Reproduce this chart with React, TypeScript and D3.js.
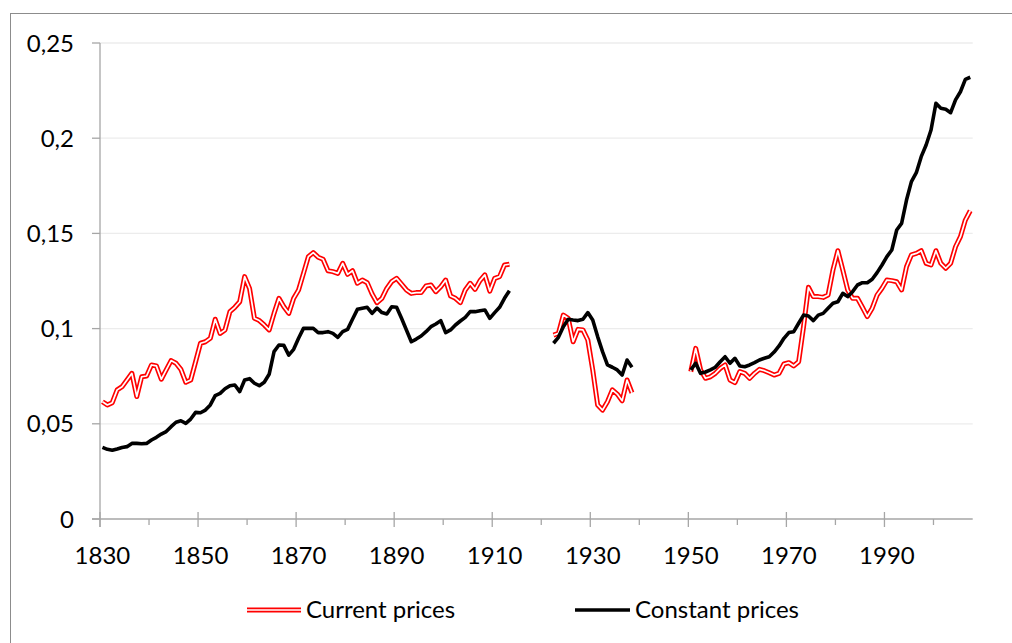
import React from "react";
import * as d3 from "d3";

// years on the category axis
const firstYear = 1830;
const lastYear = 2007;

// current prices, by period (null = no data)
const currentStart1 = 1830;
const current1 = [
  0.0616, 0.0599, 0.0611, 0.0678, 0.0695, 0.073, 0.0765, 0.0643, 0.0747, 0.0751,
  0.0809, 0.0804, 0.0734, 0.0783, 0.0832, 0.0818, 0.0786, 0.0718, 0.073, 0.0826,
  0.0923, 0.0931, 0.0949, 0.1049, 0.0975, 0.0993, 0.1089, 0.1112, 0.1141, 0.1273,
  0.1211, 0.1054, 0.1042, 0.1019, 0.0993, 0.108, 0.1159, 0.1115, 0.108, 0.1159,
  0.1203, 0.129, 0.1378, 0.1399, 0.1375, 0.1364, 0.1304, 0.1299, 0.129, 0.1343,
  0.1285, 0.1304, 0.1238, 0.1255, 0.1241, 0.1182, 0.1136, 0.1159, 0.1211, 0.1247,
  0.1264, 0.1234, 0.1203, 0.1185, 0.1189, 0.1189, 0.1224, 0.1229, 0.1194, 0.122,
  0.1255, 0.1171, 0.1159, 0.1136, 0.1203, 0.1238, 0.1206, 0.1252, 0.1282, 0.1197,
  0.1264, 0.1273, 0.1334, 0.1338,
];
const currentStart2 = 1922;
const current2 = [
  0.0966, 0.0975, 0.1071, 0.1054, 0.0931, 0.0996, 0.0993, 0.094, 0.0783, 0.0599,
  0.0572, 0.0616, 0.0678, 0.0656, 0.0621, 0.073, 0.0663,
];
const currentStart3 = 1950;
const current3 = [
  0.0774, 0.0896, 0.0783, 0.0739, 0.0747, 0.0765, 0.0791, 0.0809, 0.073, 0.0716,
  0.0774, 0.0765, 0.0739, 0.0765, 0.0786, 0.0779, 0.0768, 0.0756, 0.0765, 0.0814,
  0.0821, 0.0804, 0.0826, 0.101, 0.1217, 0.1168, 0.1168, 0.1164, 0.1176, 0.1308,
  0.1409, 0.1308, 0.1203, 0.1159, 0.1159, 0.1112, 0.1063, 0.1107, 0.1176, 0.1212,
  0.1255, 0.1252, 0.1246, 0.1203, 0.1325, 0.1387, 0.1395, 0.1409, 0.1343, 0.1334,
  0.1409, 0.1343, 0.1317, 0.1343, 0.143, 0.1483, 0.157, 0.1619,
];

// constant prices, by period
const constant1 = [
  0.0376, 0.0366, 0.0361, 0.0368, 0.0376, 0.038, 0.0397, 0.0397, 0.0395, 0.0397,
  0.0415, 0.0429, 0.0446, 0.0459, 0.0485, 0.0508, 0.0516, 0.0502, 0.0525, 0.056,
  0.0558, 0.0572, 0.0599, 0.0648, 0.066, 0.0684, 0.07, 0.0704, 0.0669, 0.073,
  0.0737, 0.0713, 0.07, 0.0718, 0.076, 0.0879, 0.0914, 0.0912, 0.0861, 0.0891,
  0.0949, 0.1001, 0.1001, 0.1001, 0.0979, 0.0979, 0.0984, 0.0975, 0.0954, 0.0984,
  0.0996, 0.1049, 0.1101, 0.1107, 0.1112, 0.108, 0.1108, 0.1084, 0.1077, 0.1115,
  0.1112, 0.1054, 0.0993, 0.0931, 0.0945, 0.0961, 0.0984, 0.101, 0.1024, 0.1042,
  0.0979, 0.0993, 0.1019, 0.104, 0.1059, 0.1089, 0.1089, 0.1094, 0.1098, 0.1054,
  0.1084, 0.1112, 0.1159, 0.1199,
];
const constant2 = [
  0.0923, 0.0954, 0.101, 0.1049, 0.1045, 0.1042, 0.1049, 0.1084, 0.1045, 0.0958,
  0.0879, 0.0809, 0.0797, 0.0783, 0.0756, 0.0835, 0.0797,
];
const constant3 = [
  0.0783, 0.0818, 0.0765, 0.0772, 0.0783, 0.0797, 0.0826, 0.0852, 0.0818, 0.0844,
  0.0804, 0.08, 0.0809, 0.0821, 0.0835, 0.0844, 0.0852, 0.0877, 0.0909, 0.0949,
  0.0979, 0.0984, 0.1028, 0.1071, 0.1066, 0.1042, 0.1071, 0.108, 0.1107, 0.1133,
  0.1141, 0.1185, 0.1168, 0.1194, 0.1229, 0.1241, 0.1241, 0.1259, 0.1294, 0.1334,
  0.1378, 0.1413, 0.1518, 0.1553, 0.1675, 0.1772, 0.1819, 0.1903, 0.1964, 0.2043,
  0.2183, 0.2157, 0.2152, 0.2134, 0.2201, 0.2244, 0.2309, 0.232,
];

const yTicks = [0, 0.05, 0.1, 0.15, 0.2, 0.25];
const xLabelYears = [1830, 1850, 1870, 1890, 1910, 1930, 1950, 1970, 1990];
const xMinorYears = [1840, 1860, 1880, 1900, 1920, 1940, 1960, 1980, 2000];

const seriesNames = ["Current prices", "Constant prices"];

type Pt = { year: number; value: number | null };

function build(parts: [number, number[]][]): Pt[] {
  const map = new Map<number, number>();
  parts.forEach(([start, vals]) => vals.forEach((v, i) => map.set(start + i, v)));
  return d3.range(firstYear, lastYear + 1).map((year) => ({
    year,
    value: map.has(year) ? (map.get(year) as number) : null,
  }));
}

const currentSeries = build([
  [currentStart1, current1],
  [currentStart2, current2],
  [currentStart3, current3],
]);
const constantSeries = build([
  [currentStart1, constant1],
  [currentStart2, constant2],
  [currentStart3, constant3],
]);

const FONT = "Lato, 'Open Sans', sans-serif";
const AXIS = "#a6a6a6";
const FS = 24;

export default function App() {
  const years = d3.range(firstYear, lastYear + 1);
  const x = d3.scaleBand<number>().domain(years).range([100, 972.7]).padding(0);
  const cx = (yr: number) => (x(yr) as number) + x.bandwidth() / 2;
  const y = d3.scaleLinear().domain([0, 0.25]).range([519, 43]);

  const line = d3
    .line<Pt>()
    .defined((d) => d.value !== null)
    .x((d) => cx(d.year))
    .y((d) => y(d.value as number));

  const fmt = (v: number) => String(+v.toFixed(2)).replace(".", ",");

  return (
    <svg
      width={1012}
      height={643}
      style={{ position: "absolute", left: 0, top: 0, background: "#fff" }}
      fontFamily={FONT}
    >
      <rect x={10.5} y={13.5} width={1010} height={640} fill="#fff" stroke="#8c8c8c" />

      {/* gridlines */}
      {yTicks.slice(1).map((t) => (
        <line key={t} x1={100} x2={972.7} y1={y(t)} y2={y(t)} stroke="#ececec" strokeWidth={1.3} />
      ))}

      {/* y axis */}
      <line x1={100} x2={100} y1={y(0.25)} y2={y(0) + 8} stroke={AXIS} strokeWidth={1.3} />
      {yTicks.map((t) => (
        <g key={t}>
          <line x1={92} x2={100} y1={y(t)} y2={y(t)} stroke={AXIS} strokeWidth={1.3} />
          <text x={74} y={y(t)} dy="0.36em" textAnchor="end" fontSize={FS} fill="#000">
            {fmt(t)}
          </text>
        </g>
      ))}

      {/* x axis */}
      <line x1={92} x2={972.7} y1={y(0)} y2={y(0)} stroke={AXIS} strokeWidth={1.3} />
      {xLabelYears.map((yr) => (
        <g key={yr}>
          <line x1={x(yr)} x2={x(yr)} y1={y(0) - 7} y2={y(0) + 8} stroke={AXIS} strokeWidth={1.3} />
          <text x={cx(yr)} y={564} textAnchor="middle" fontSize={FS} fill="#000">
            {yr}
          </text>
        </g>
      ))}
      {xMinorYears.map((yr) => (
        <line key={yr} x1={x(yr)} x2={x(yr)} y1={y(0)} y2={y(0) + 6} stroke={AXIS} strokeWidth={1.3} />
      ))}

      {/* current prices: double red line */}
      <path d={line(currentSeries) || ""} fill="none" stroke="#ff0000" strokeWidth={5} strokeLinejoin="round" />
      <path d={line(currentSeries) || ""} fill="none" stroke="#fff" strokeWidth={1.7} strokeLinejoin="round" />

      {/* constant prices */}
      <path d={line(constantSeries) || ""} fill="none" stroke="#000" strokeWidth={3.6} strokeLinejoin="round" />

      {/* legend */}
      <line x1={247} x2={301} y1={610} y2={610} stroke="#ff0000" strokeWidth={5} />
      <line x1={247} x2={301} y1={610} y2={610} stroke="#fff" strokeWidth={1.7} />
      <text x={306} y={618} fontSize={FS} fill="#000">
        {seriesNames[0]}
      </text>
      <line x1={575} x2={630} y1={610} y2={610} stroke="#000" strokeWidth={3.6} />
      <text x={635} y={618} fontSize={FS} fill="#000">
        {seriesNames[1]}
      </text>
    </svg>
  );
}
